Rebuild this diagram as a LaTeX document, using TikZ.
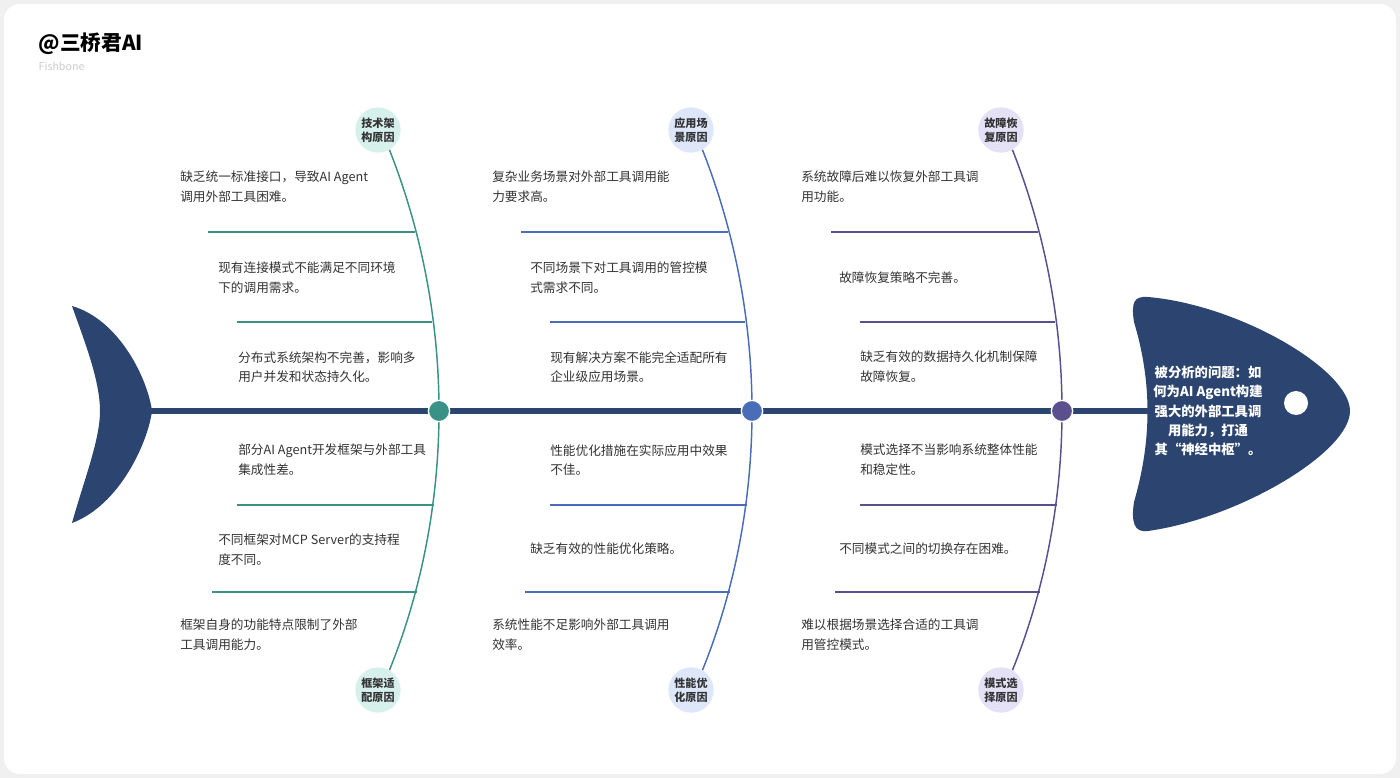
\documentclass[tikz,border=0pt]{standalone}
\usepackage{fontspec}
\setmainfont{Noto Sans CJK SC}
\definecolor{navy}{HTML}{2C4570}
\definecolor{cA}{HTML}{3A9187}
\definecolor{cB}{HTML}{4A6DB8}
\definecolor{cC}{HTML}{5C4F8E}
\definecolor{fA}{HTML}{D6F1EC}
\definecolor{fB}{HTML}{DDE7F9}
\definecolor{fC}{HTML}{E4E1F6}
\definecolor{txt}{HTML}{333333}
\tikzset{
 lbl/.style={circle,minimum size=34pt,inner sep=0pt,align=center,font=\fontsize{8.3}{10.5}\selectfont\bfseries,text=txt},
 cause/.style={anchor=north west,align=left,inner sep=0pt,font=\fontsize{9.5}{14.5}\selectfont,text=txt},
 junc/.style={circle,minimum size=16pt,inner sep=0pt,draw=white,line width=1pt},
}
\begin{document}
\begin{tikzpicture}[x=0.75pt,y=-0.75pt]
\fill[gray!12] (0,0) rectangle (1400,778);
\fill[white,rounded corners=12pt] (4,4) rectangle (1396,774);
\useasboundingbox (0,0) rectangle (1400,778);
\node[anchor=west,font=\fontsize{15.5}{18}\selectfont\bfseries] (title) at (34,44) {@三桥君AI};
\node[anchor=west,font=\fontsize{8}{9}\selectfont,text=gray!40] (sub) at (34,66) {Fishbone};
% spine
\draw[navy,line width=4pt] (100,411) -- (1150,411);
% tail
\fill[navy] (72,306) .. controls (120,320) and (148,380) .. (152,411) .. controls (148,442) and (120,505) .. (72,523) .. controls (84,480) and (100,440) .. (100,411) .. controls (100,380) and (84,340) .. cycle;
% head
\fill[navy] (1148,297) .. controls (1240,305) and (1350,370) .. (1350,411) .. controls (1350,452) and (1240,518) .. (1148,531) .. controls (1134,533) and (1131,522) .. (1134,502) .. controls (1152,440) and (1152,382) .. (1134,322) .. controls (1131,302) and (1134,296) .. cycle;
\fill[white] (1296,403) circle (12);
\node[align=center,text=white,font=\fontsize{10}{14.5}\selectfont\bfseries] (head) at (1208,411) {被分析的问题：如\\何为AI Agent构建\\强大的外部工具调\\用能力，打通\\其“神经中枢”。};
% groups
\foreach \dx/\c/\f/\ta/\tb/\n in {0/cA/fA/技术架\\构原因/框架适\\配原因/A, 313/cB/fB/应用场\\景原因/性能优\\化原因/B, 623/cC/fC/故障恢\\复原因/模式选\\择原因/C}{
 \begin{scope}[xshift=\dx*0.75pt]
 \node[lbl,fill=\f] (top\n) at (378,130) {\ta};
 \node[lbl,fill=\f] (bot\n) at (378,690) {\tb};
 \coordinate (j\n) at (439,411);
 \draw[\c,line width=1.1pt] (top\n.-60) .. controls (425,240) and (439,330) .. (j\n) .. controls (439,492) and (425,582) .. (bot\n.60);
 \draw[\c,line width=1.1pt] (208,232) -- (415,232) (237,322) -- (432,322) (237,505) -- (434,505) (212,592) -- (417,592);
 \node[junc,fill=\c] (jj\n) at (j\n) {};
 \end{scope}}
% causes
\node[cause] (a1) at (180,171) {缺乏统一标准接口，导致AI Agent\\调用外部工具困难。};
\node[cause] (a2) at (218,262) {现有连接模式不能满足不同环境\\下的调用需求。};
\node[cause] (a3) at (238,351) {分布式系统架构不完善，影响多\\用户并发和状态持久化。};
\node[cause] (a4) at (238,444) {部分AI Agent开发框架与外部工具\\集成性差。};
\node[cause] (a5) at (218,534) {不同框架对MCP Server的支持程\\度不同。};
\node[cause] (a6) at (180,619) {框架自身的功能特点限制了外部\\工具调用能力。};
\node[cause] (b1) at (492,171) {复杂业务场景对外部工具调用能\\力要求高。};
\node[cause] (b2) at (530,262) {不同场景下对工具调用的管控模\\式需求不同。};
\node[cause] (b3) at (550,351) {现有解决方案不能完全适配所有\\企业级应用场景。};
\node[cause] (b4) at (550,444) {性能优化措施在实际应用中效果\\不佳。};
\node[cause] (b5) at (530,543) {缺乏有效的性能优化策略。};
\node[cause] (b6) at (492,619) {系统性能不足影响外部工具调用\\效率。};
\node[cause] (c1) at (801,171) {系统故障后难以恢复外部工具调\\用功能。};
\node[cause] (c2) at (839,271) {故障恢复策略不完善。};
\node[cause] (c3) at (860,351) {缺乏有效的数据持久化机制保障\\故障恢复。};
\node[cause] (c4) at (860,444) {模式选择不当影响系统整体性能\\和稳定性。};
\node[cause] (c5) at (839,543) {不同模式之间的切换存在困难。};
\node[cause] (c6) at (801,619) {难以根据场景选择合适的工具调\\用管控模式。};
\end{tikzpicture}
\end{document}
